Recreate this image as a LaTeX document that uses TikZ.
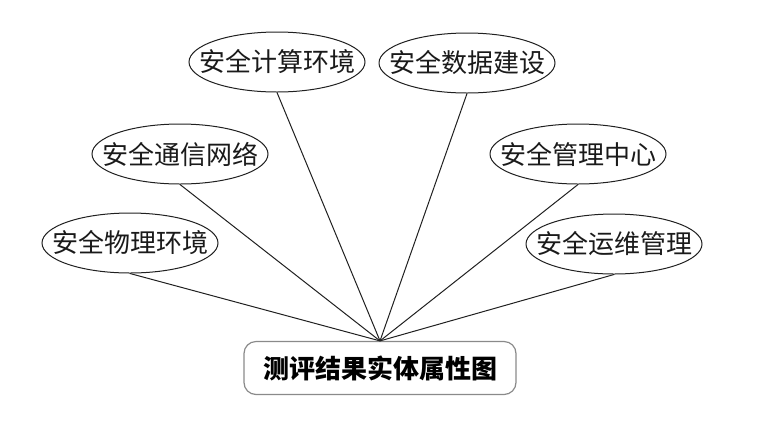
\documentclass[tikz,border=0pt]{standalone}
\usepackage{fontspec}
\usetikzlibrary{positioning,shapes.geometric}
\newfontfamily\cjk{Noto Sans CJK SC}
\definecolor{ErLine}{HTML}{202020}
\definecolor{ErFrame}{HTML}{8A8A8A}
\definecolor{ErText}{HTML}{1A1A1A}

\begin{document}
\begin{tikzpicture}[
        x=0.5pt,y=-0.5pt,
        attr/.style={draw=ErLine,ellipse,line width=0.5pt,minimum width=88pt,minimum height=30pt,inner xsep=-8pt,inner ysep=1pt,font=\cjk\fontsize{13}{14}\selectfont,text=ErText},
        ent/.style={draw=ErFrame,rounded corners=6pt,line width=0.6pt,minimum width=136pt,minimum height=26.5pt,font=\cjk\bfseries\fontsize{13}{14}\selectfont,text=black},
        link/.style={line width=0.5pt,ErLine}
      ]
        \useasboundingbox (0,0) rectangle (780,440);
        \node[ent] (er) at (380,368) {测评结果实体属性图};
        \node[attr] (calc) at (277,62) {安全计算环境};
        \node[attr] (data) at (467,63) {安全数据建设};
        \node[attr] (comm) at (180,154) {安全通信网络};
        \node[attr] (mgmt) at (578,154) {安全管理中心};
        \node[attr] (phys) at (130,243) {安全物理环境};
        \node[attr] (ops) at (614,244) {安全运维管理};
        \draw[link] (phys.south)--(er.north); \draw[link] (comm.south)--(er.north); \draw[link] (calc.south)--(er.north);
        \draw[link] (data.south)--(er.north); \draw[link] (mgmt.south)--(er.north); \draw[link] (ops.south)--(er.north);
      \end{tikzpicture}
\end{document}
